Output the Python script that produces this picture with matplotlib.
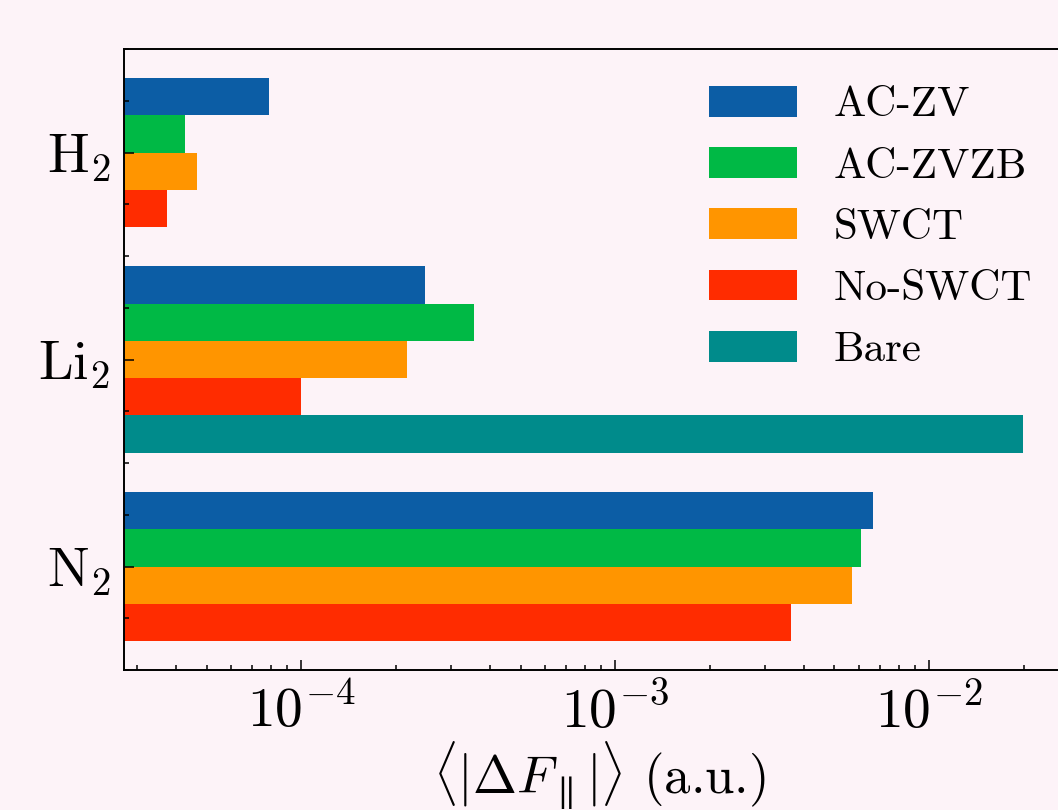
import numpy as np
import matplotlib
matplotlib.use("Agg")
import matplotlib.pyplot as plt
from matplotlib.ticker import MultipleLocator, LogLocator, NullFormatter

plt.rcParams["font.family"] = "serif"
plt.rcParams["font.serif"] = ["cmr10"]
plt.rcParams["mathtext.fontset"] = "cm"
plt.rcParams["axes.formatter.use_mathtext"] = True

molecules = ["H$_2$", "Li$_2$", "N$_2$"]
methods = ["AC-ZV", "AC-ZVZB", "SWCT", "No-SWCT", "Bare"]
colors = ["#0C5DA5", "#00B945", "#FF9500", "#FF2C00", "#008B8B"]

# mean |dF_parallel| per molecule, nan = not computed
ac_zv = [7.9e-5, 2.48e-4, 6.64e-3]
ac_zvzb = [4.27e-5, 3.56e-4, 6.07e-3]
swct = [4.67e-5, 2.18e-4, 5.69e-3]
no_swct = [3.74e-5, 1.0e-4, 3.64e-3]
bare = [np.nan, 1.99e-2, np.nan]

series = [ac_zv, ac_zvzb, swct, no_swct, bare]
bg = "#FDF3F8"
h = 0.18

fig = plt.figure(figsize=(10.58, 8.10), dpi=100, facecolor=bg)
ax = fig.add_axes([124 / 1058, 140 / 810, (1075 - 124) / 1058, 621 / 810])
ax.set_facecolor(bg)

for i in range(len(molecules)):
    present = [k for k in range(len(series)) if not np.isnan(series[k][i])]
    n = len(present)
    for j, k in enumerate(present):
        ax.barh(i + (j - (n - 1) / 2) * h, series[k][i], height=h, color=colors[k],
                label=methods[k] if i == 1 else None)

ax.set_xscale("log")
ax.set_xlim(2.73e-5, 10 ** (-2 + 146 / 314))
ax.set_ylim(2.5, -0.5)
ax.set_yticks(range(len(molecules)))
ax.set_yticklabels(molecules)
ax.yaxis.set_minor_locator(MultipleLocator(0.25))
ax.xaxis.set_major_locator(LogLocator(base=10))
ax.xaxis.set_minor_locator(LogLocator(base=10, subs=np.arange(2, 10)))
ax.xaxis.set_minor_formatter(NullFormatter())

ax.tick_params(which="both", direction="in", top=False, right=False, labelsize=40, width=1.1)
ax.tick_params(which="major", length=7.2, pad=10)
ax.tick_params(which="minor", length=3.6)
for s in ax.spines.values():
    s.set_linewidth(1.4)

ax.set_xlabel(r"$\langle|\Delta F_\parallel|\rangle$ (a.u.)", fontsize=38, labelpad=0)

ax.legend(loc="upper left", bbox_to_anchor=(709 / 1058, 1 - 86 / 810), bbox_transform=fig.transFigure,
          frameon=False, fontsize=31, handlelength=2.05, handleheight=0.72, handletextpad=0.84,
          labelspacing=0.53, borderpad=0, borderaxespad=0)

fig.savefig("out.png", dpi=100, facecolor=bg)
